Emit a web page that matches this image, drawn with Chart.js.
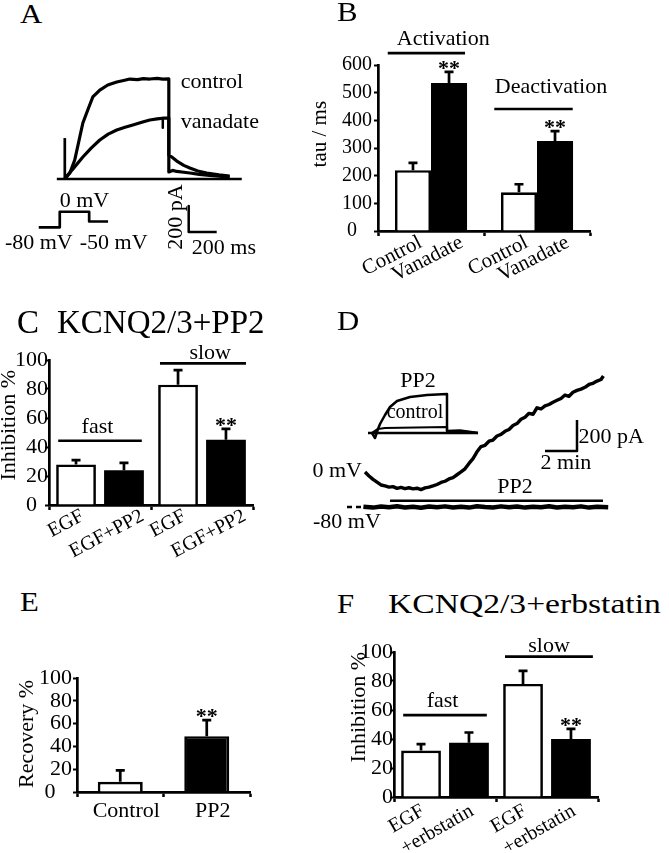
<!DOCTYPE html>
<html>
<head>
<meta charset="utf-8">
<script src="https://cdn.jsdelivr.net/npm/chart.js@4.4.1/dist/chart.umd.min.js"></script>
<style>
  html, body { margin: 0; padding: 0; background: #fff; }
  #fig { position: relative; width: 669px; height: 853px; overflow: hidden;
         font-family: "Liberation Serif", "Times New Roman", Times, serif; }
  #fig canvas { position: absolute; }
  .lbl { position: absolute; font-size: 28px; line-height: 1; color: #000; white-space: nowrap;
         transform-origin: 0 0; transform: scaleX(1.1); }
</style>
</head>
<body>
<div id="fig">
  <canvas id="cA" width="300" height="230" style="left:0;top:40px"></canvas>
  <canvas id="cB" width="369" height="260" style="left:300px;top:25px"></canvas>
  <canvas id="cC" width="330" height="235" style="left:0;top:335px"></canvas>
  <canvas id="cD" width="368" height="178" style="left:301px;top:360px"></canvas>
  <canvas id="cDi" width="130" height="72" style="left:360px;top:370px"></canvas>
  <canvas id="cE" width="330" height="233" style="left:0;top:620px"></canvas>
  <canvas id="cF" width="339" height="228" style="left:330px;top:625px"></canvas>

  <div class="lbl" style="left:20px;top:0">A</div>
  <div class="lbl" style="left:337px;top:-2px">B</div>
  <div class="lbl" style="left:17px;top:306px;font-size:33px;transform:none">C</div>
  <div class="lbl" style="left:57px;top:306px;font-size:33px;transform:none">KCNQ2/3+PP2</div>
  <div class="lbl" style="left:337px;top:307px">D</div>
  <div class="lbl" style="left:20px;top:588px">E</div>
  <div class="lbl" style="left:337px;top:590px">F</div>
  <div class="lbl" style="left:388px;top:590px;transform:scaleX(1.2)">KCNQ2/3+erbstatin</div>
</div>
<script>
// ---------- panel A: example currents (ms, pA) and protocol (mV) ----------
const aControl = [[0,0],[36,46],[71,146],[107,323],[129,431],[164,531],[200,631],[250,684],[307,723],
  [371,746],[420,758],[464,769],[520,765],[560,772],[607,769],[660,774],[700,768],[743,770],
  [743,54],[770,66],[800,58],[850,52],[893,46],[960,36],[1036,28],[1100,21],[1178,15]];
const aVanadate = [[0,0],[21,31],[60,80],[129,169],[190,240],[250,300],[310,345],[371,377],[430,398],
  [486,415],[550,436],[607,454],[660,462],[714,469],[743,469],[743,185],[764,169],[800,138],
  [850,105],[893,85],[950,62],[1014,46],[1100,32],[1178,23]];
const aNotch = [[700,469],[700,395]];
const aSpike = [[0,0],[0,315]];
const aZero = [[-57,0],[1264,0]];
const aProtocol = [[-186,-80],[-36,-80],[-36,0],[174,0],[174,-50],[309,-50]];
const aScaleBar = [[885,-208],[885,-408],[1085,-408]];

// ---------- panel B: time constants (ms) ----------
const bGroups = ['Activation', 'Deactivation'];
const bControl = [220, 140];
const bControlSem = [26, 29];
const bVanadate = [535, 325];
const bVanadateSem = [40, 36];
const bControlSig = ['', ''];
const bVanadateSig = ['**', '**'];
const bBarLabels = [['Control', 'Control'], ['Vanadate', 'Vanadate']];

// ---------- panel C: inhibition by EGF +/- PP2 (%) ----------
const cGroups = ['fast', 'slow'];
const cEgf = [28, 83];
const cEgfSem = [3, 10];
const cPp2 = [24, 45];
const cPp2Sem = [5, 7.5];
const cEgfSig = ['', ''];
const cPp2Sig = ['', '**'];
const cBarLabels = [['EGF', 'EGF'], ['EGF+PP2', 'EGF+PP2']];

// ---------- panel D: current at 0 mV / -80 mV (min, pA) ----------
const dTrace = [[0,226],[0.25,200],[0.5,178],[0.75,160],[1,142],[1.25,136],[1.5,128],[1.75,131],
  [2,120],[2.25,126],[2.5,118],[2.75,124],[3,117],[3.25,121],[3.5,112],[3.75,123],[4,128],
  [4.25,136],[4.5,145],[4.75,158],[5,166],[5.25,181],[5.5,190],[5.75,208],[6,226],[6.25,246],
  [6.5,281],[6.75,312],[7,356],[7.25,390],[7.5,398],[7.75,424],[8,432],[8.25,458],[8.5,468],
  [8.75,488],[9,500],[9.25,526],[9.5,538],[9.75,566],[10,579],[10.25,604],[10.5,598],[10.75,640],
  [11,632],[11.25,652],[11.5,661],[11.75,676],[12,688],[12.25,700],[12.5,722],[12.75,714],
  [13,740],[13.25,752],[13.5,760],[13.75,772],[14,790],[14.25,798],[14.5,812],[14.75,822],[14.9,845]];
const dHold = [[-0.1,2],[0.5,-4],[1,3],[1.5,-2],[2,5],[2.5,-3],[3,1],[3.5,-5],[4,3],[4.5,-1],[5,4],
  [5.5,-3],[6,2],[6.5,-4],[7,5],[7.5,0],[8,-3],[8.5,4],[9,-2],[9.5,3],[10,-4],[10.5,2],[11,-1],
  [11.5,5],[12,-3],[12.5,2],[13,-2],[13.5,4],[14,-4],[14.5,1],[15.2,-2]];
const dHoldDash = [[-1.125,0],[-0.2,0]];
const dPp2Bar = [[1.56,41],[14.875,41]];
const dScaleBar = [[11.25,361],[13.25,361],[13.25,561]];
// inset sweeps (ms, pA)
const dInsetPp2 = [[0,0],[30,-50],[60,40],[80,90],[130,180],[180,260],[250,320],[380,360],[550,380],
  [750,390],[750,20],[880,25],[1060,0]];
const dInsetControl = [[0,0],[60,40],[130,50],[750,60],[750,20],[880,18],[1060,0]];
const dInsetZero = [[-40,0],[1060,0]];

// ---------- panel E: recovery (%) ----------
const eGroups = ['Control', 'PP2'];
const eRecovery = [9, 49];
const eRecoverySem = [10, 14];
const eSig = ['', '**'];

// ---------- panel F: inhibition by EGF +/- erbstatin (%) ----------
const fGroups = ['fast', 'slow'];
const fEgf = [32, 78];
const fEgfSem = [4.5, 9];
const fErb = [37.5, 40];
const fErbSem = [7, 7];
const fEgfSig = ['', ''];
const fErbSig = ['', '**'];
const fBarLabels = [['EGF', 'EGF'], ['+erbstatin', '+erbstatin']];

const SERIF = '"Liberation Serif", "Times New Roman", Times, serif';
Chart.defaults.font.family = SERIF;
Chart.defaults.color = '#000';

function drawText(ctx, text, x, y, o) {
  o = o || {};
  ctx.save();
  ctx.font = (o.bold ? 'bold ' : '') + (o.size || 22) + 'px ' + SERIF;
  ctx.fillStyle = '#000';
  ctx.textAlign = o.align || 'center';
  ctx.textBaseline = o.baseline || 'alphabetic';
  ctx.translate(x, y);
  if (o.rot) ctx.rotate(o.rot * Math.PI / 180);
  ctx.fillText(text, 0, 0);
  ctx.restore();
}

// texts and overlines placed in data units
function annot(items) {
  return {
    id: 'annot',
    afterDatasetsDraw(chart) {
      const ctx = chart.ctx;
      items.forEach(it => {
        const xs = chart.scales[it.xAxis || 'x'];
        const ys = chart.scales[it.yAxis || 'y'];
        if (it.line) {
          ctx.save();
          ctx.strokeStyle = '#000';
          ctx.lineWidth = it.width || 2.7;
          ctx.beginPath();
          it.line.forEach((p, k) => {
            const px = xs.getPixelForValue(p[0]);
            const py = ys.getPixelForValue(p[1]);
            if (k) ctx.lineTo(px, py); else ctx.moveTo(px, py);
          });
          ctx.stroke();
          ctx.restore();
          return;
        }
        const px = it.dx !== undefined ? chart.chartArea.left + it.dx : xs.getPixelForValue(it.x);
        drawText(ctx, it.text, px, ys.getPixelForValue(it.y), it);
      });
    }
  };
}

// error bars, significance stars and slanted bar labels
function barDecor(sems, sigs, labels, lab) {
  return {
    id: 'barDecor',
    afterDatasetsDraw(chart) {
      const ctx = chart.ctx;
      const ys = chart.scales.y;
      const base = chart.chartArea.bottom;
      chart.data.datasets.forEach((ds, i) => {
        chart.getDatasetMeta(i).data.forEach((bar, j) => {
          const top = ys.getPixelForValue(ds.data[j] + sems[i][j]);
          ctx.save();
          ctx.strokeStyle = '#000';
          ctx.lineWidth = 2.7;
          ctx.beginPath();
          ctx.moveTo(bar.x, bar.y);
          ctx.lineTo(bar.x, top);
          ctx.moveTo(bar.x - 4.5, top);
          ctx.lineTo(bar.x + 4.5, top);
          ctx.stroke();
          ctx.restore();
          if (sigs[i][j]) drawText(ctx, sigs[i][j], bar.x, top + 3, { bold: true });
          if (labels) {
            drawText(ctx, labels[i][j], bar.x + lab.dx[i], base + lab.dy,
              { align: 'right', baseline: 'top', rot: -lab.angle, size: lab.size });
          }
        });
      });
    }
  };
}

function whiteBars(data, cat, bar) {
  return { data, backgroundColor: '#fff', borderColor: '#000', borderWidth: 2.7,
           categoryPercentage: cat, barPercentage: bar };
}
function blackBars(data, cat, bar) {
  return { data, backgroundColor: '#000', borderColor: '#000', borderWidth: 0,
           categoryPercentage: cat, barPercentage: bar };
}

function barChart(id, o) {
  return new Chart(document.getElementById(id), {
    type: 'bar',
    data: { labels: o.groups, datasets: o.datasets },
    options: {
      responsive: false,
      animation: false,
      events: [],
      layout: { padding: { left: 0, top: o.top, right: o.right, bottom: 0 } },
      plugins: { legend: { display: false }, tooltip: { enabled: false } },
      scales: {
        x: {
          offset: true,
          grid: { offset: true, drawOnChartArea: false, tickLength: 5, tickWidth: 2.5, tickColor: '#000' },
          border: { color: '#000', width: 2.7 },
          ticks: { display: !!o.xTicks, font: { size: 22 }, padding: 1, labelOffset: o.labelOffset || 0,
                   maxRotation: 0, autoSkip: false },
          afterFit: s => { s.height = o.xH; }
        },
        y: {
          min: 0,
          max: o.max,
          grid: { drawOnChartArea: false, tickLength: 4, tickWidth: 2, tickColor: '#000' },
          border: { color: '#000', width: 2.7 },
          ticks: { stepSize: o.step, autoSkip: false, font: { size: o.tickSize || 22 }, padding: o.tickPad,
                   callback: v => (v === 0 ? '0' + o.zeroPad : v) },
          afterFit: s => { s.width = o.yW; }
        }
      }
    },
    plugins: [barDecor(o.sems, o.sigs, o.barLabels, o.lab), annot(o.items)]
  });
}

function trace(points, width, extra) {
  return Object.assign({
    data: points.map(p => ({ x: p[0], y: p[1] })),
    showLine: true, pointRadius: 0, borderColor: '#000', borderWidth: width,
    tension: 0, clip: false, borderJoinStyle: 'round', borderCapStyle: 'butt'
  }, extra || {});
}

function traceChart(id, datasets, scales, pad, items) {
  const sc = {};
  Object.keys(scales).forEach(k => {
    sc[k] = Object.assign({ type: 'linear', display: false,
                            axis: k.charAt(0) === 'x' ? 'x' : 'y' }, scales[k]);
  });
  return new Chart(document.getElementById(id), {
    type: 'scatter',
    data: { datasets },
    options: {
      responsive: false,
      animation: false,
      events: [],
      layout: { padding: pad },
      plugins: { legend: { display: false }, tooltip: { enabled: false } },
      scales: sc
    },
    plugins: [annot(items)]
  });
}

// ---- A ----
traceChart('cA', [
  trace(aZero, 2.7),
  trace(aSpike, 2.7),
  trace(aControl, 3.2),
  trace(aVanadate, 3.2),
  trace(aNotch, 2.5),
  trace(aProtocol, 2.7, { yAxisID: 'yV' }),
  trace(aScaleBar, 2.5)
], {
  x: { min: -220, max: 1380 },
  y: { min: -450, max: 1000 },
  yV: { min: -132, max: 834 }
}, { left: 34, right: 42, top: 9, bottom: 32.5 }, [
  { text: 'control', x: 828, y: 697, align: 'left' },
  { text: 'vanadate', x: 828, y: 390, align: 'left' },
  { text: '0 mV', x: -36, y: -213, align: 'left' },
  { text: '-80 mV', x: -428, y: -541, align: 'left' },
  { text: '-50 mV', x: 107, y: -541, align: 'left' },
  { text: '200 pA', x: 793, y: -292, rot: -90, baseline: 'middle' },
  { text: '200 ms', x: 907, y: -577, align: 'left' }
]);

// ---- B ----
barChart('cB', {
  groups: bGroups,
  datasets: [whiteBars(bControl, 0.68, 1), blackBars(bVanadate, 0.68, 1)],
  sems: [bControlSem, bVanadateSem],
  sigs: [bControlSig, bVanadateSig],
  barLabels: bBarLabels,
  lab: { dx: [3, 8], dy: 1, angle: 27, size: 21 },
  max: 600, step: 100, tickSize: 20, tickPad: 2, zeroPad: '   ',
  yW: 78, xH: 54, top: 40, right: 79,
  items: [
    { text: 'Activation', x: 0.116, y: 672 },
    { line: [[-0.408, 643], [0.321, 643]] },
    { text: 'Deactivation', x: 1.132, y: 500 },
    { line: [[0.597, 441], [1.337, 441]] },
    { text: 'tau / ms', dx: -58, y: 350, rot: -90, baseline: 'middle', size: 21 }
  ]
});

// ---- C ----
barChart('cC', {
  groups: cGroups,
  datasets: [whiteBars(cEgf, 0.94, 0.83), blackBars(cPp2, 0.94, 0.83)],
  sems: [cEgfSem, cPp2Sem],
  sigs: [cEgfSig, cPp2Sig],
  barLabels: cBarLabels,
  lab: { dx: [2, 14], dy: 1, angle: 28, size: 20 },
  max: 100, step: 20, tickPad: -3, zeroPad: '  ',
  yW: 49, xH: 65, top: 25, right: 77,
  items: [
    { text: 'fast', x: -0.025, y: 49.7 },
    { line: [[-0.41, 44.3], [0.41, 44.3]] },
    { text: 'slow', x: 1.08, y: 101 },
    { line: [[0.588, 97.7], [1.431, 97.7]] },
    { text: 'Inhibition %', dx: -40, y: 55, rot: -90, baseline: 'middle' }
  ]
});

// ---- D ----
traceChart('cD', [
  trace(dTrace, 3.4),
  trace(dHold, 4.5),
  trace(dHoldDash, 2.5, { borderDash: [5, 4] }),
  trace(dPp2Bar, 2.5),
  trace(dScaleBar, 2.5)
], {
  x: { min: -4, max: 19 },
  y: { min: -200, max: 948 }
}, { left: 0, right: 0, top: 0, bottom: 0 }, [
  { text: '0 mV', x: -0.19, y: 195, align: 'right' },
  { text: '-80 mV', x: -3.25, y: -135, align: 'left' },
  { text: 'PP2', x: 9.375, y: 88 },
  { text: '200 pA', x: 13.35, y: 415, align: 'left' },
  { text: '2 min', x: 12.56, y: 245 }
]);

traceChart('cDi', [
  trace(dInsetZero, 2.5),
  trace(dInsetControl, 2.2),
  trace(dInsetPp2, 2.5)
], {
  x: { min: -120, max: 1180 },
  y: { min: -90, max: 630 }
}, { left: 0, right: 0, top: 0, bottom: 0 }, [
  { text: 'PP2', x: 460, y: 463 },
  { text: 'control', x: 430, y: 147, size: 20 }
]);

// ---- E ----
barChart('cE', {
  groups: eGroups,
  datasets: [{ data: eRecovery, backgroundColor: ['#fff', '#000'], borderColor: '#000', borderWidth: 2.7,
               categoryPercentage: 1, barPercentage: 0.52 }],
  sems: [eRecoverySem],
  sigs: [eSig],
  barLabels: null,
  xTicks: true, labelOffset: 6,
  max: 100, step: 20, tickPad: 1, zeroPad: '   ',
  yW: 77, xH: 61, top: 58, right: 80,
  items: [
    { text: 'Recovery %', dx: -50, y: 51, rot: -90, baseline: 'middle' }
  ]
});

// ---- F ----
barChart('cF', {
  groups: fGroups,
  datasets: [whiteBars(fEgf, 0.94, 0.83), blackBars(fErb, 0.94, 0.83)],
  sems: [fEgfSem, fErbSem],
  sigs: [fEgfSig, fErbSig],
  barLabels: fBarLabels,
  lab: { dx: [-3, -2], dy: 4, angle: 30, size: 20 },
  max: 100, step: 20, tickPad: -3, zeroPad: '',
  yW: 64, xH: 56, top: 27, right: 71,
  items: [
    { text: 'fast', x: -0.024, y: 62.3 },
    { line: [[-0.41, 56.5], [0.41, 56.5]] },
    { text: 'slow', x: 1.02, y: 100.2 },
    { line: [[0.588, 96.8], [1.45, 96.8]] },
    { text: 'Inhibition %', dx: -35, y: 62, rot: -90, baseline: 'middle' }
  ]
});
</script>
</body>
</html>
